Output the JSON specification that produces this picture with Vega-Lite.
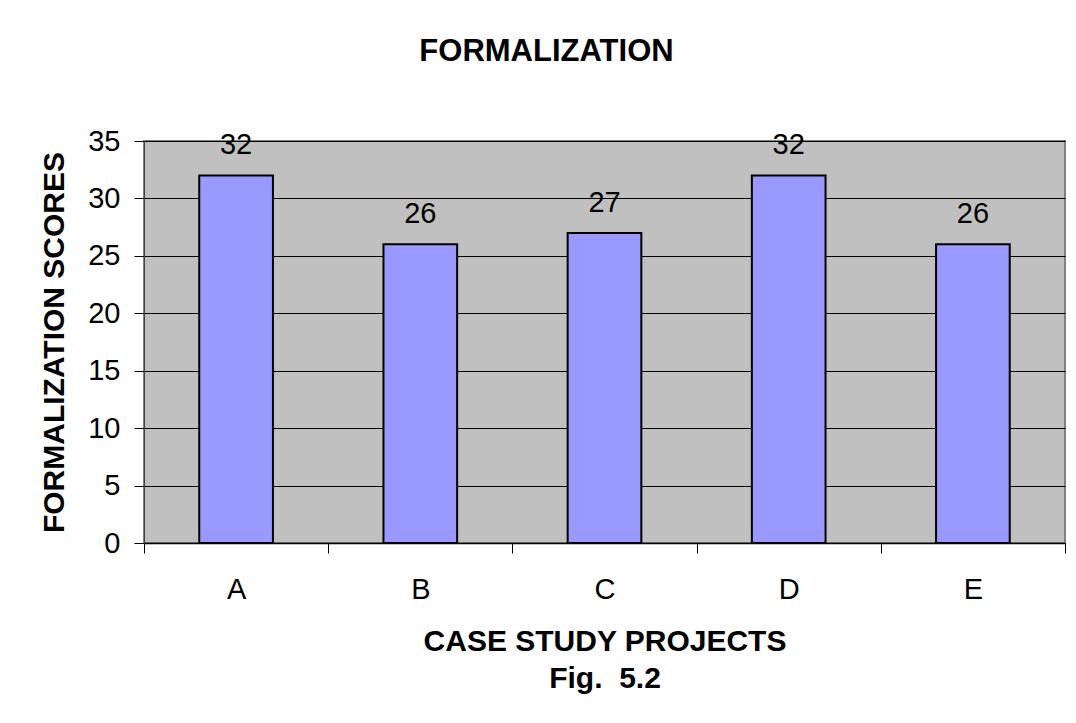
{
  "$schema": "https://vega.github.io/schema/vega-lite/v6.json",
  "autosize": {"type": "none"},
  "padding": {"left": 144, "top": 141, "right": 11, "bottom": 180},
  "width": 921,
  "height": 402,
  "background": "#ffffff",
  "title": {
    "text": "FORMALIZATION",
    "font": "Liberation Sans",
    "fontSize": 31,
    "fontWeight": "bold",
    "color": "#000000",
    "anchor": "middle",
    "frame": "group",
    "baseline": "alphabetic",
    "offset": 35,
    "dx": -58
  },
  "data": {
    "values": [
      {"project": "A", "score": 32},
      {"project": "B", "score": 26},
      {"project": "C", "score": 27},
      {"project": "D", "score": 32},
      {"project": "E", "score": 26}
    ]
  },
  "encoding": {
    "x": {
      "field": "project",
      "type": "nominal",
      "sort": null,
      "scale": {"paddingInner": 0, "paddingOuter": 0},
      "axis": {
        "title": ["CASE STUDY PROJECTS", "Fig.\u00a0 5.2"],
        "titleFont": "Liberation Sans",
        "titleFontSize": 30,
        "titleFontWeight": "bold",
        "titleColor": "#000000",
        "titleBaseline": "alphabetic",
        "titleY": 107,
        "titleLineHeight": 37,
        "labelAngle": 0,
        "labelFont": "Liberation Sans",
        "labelFontSize": 29,
        "labelColor": "#000000",
        "labelBaseline": "alphabetic",
        "labelPadding": 45,
        "tickBand": "extent",
        "tickSize": 10,
        "tickColor": "#000000",
        "domainColor": "#000000",
        "domainWidth": 1.5,
        "grid": false
      }
    },
    "y": {
      "field": "score",
      "type": "quantitative",
      "scale": {"domain": [0, 35], "nice": false},
      "axis": {
        "values": [0, 5, 10, 15, 20, 25, 30, 35],
        "title": "FORMALIZATION SCORES",
        "titleFont": "Liberation Sans",
        "titleFontSize": 30,
        "titleFontWeight": "bold",
        "titleColor": "#000000",
        "titleX": -90,
        "titleY": 201,
        "titleBaseline": "middle",
        "titleAlign": "center",
        "labelFont": "Liberation Sans",
        "labelFontSize": 29,
        "labelColor": "#000000",
        "labelPadding": 14,
        "tickSize": 10,
        "tickColor": "#000000",
        "domainColor": "#404040",
        "grid": true,
        "gridColor": "#000000",
        "gridWidth": 1
      }
    }
  },
  "layer": [
    {
      "mark": {"type": "bar", "width": {"band": 0.4}, "color": "#9999FF", "stroke": "#000000", "strokeWidth": 2}
    },
    {
      "mark": {"type": "text", "font": "Liberation Sans", "fontSize": 29, "color": "#000000", "baseline": "alphabetic", "dy": -21},
      "encoding": {"text": {"field": "score", "type": "quantitative"}}
    }
  ],
  "config": {
    "view": {"fill": "#C0C0C0", "stroke": "#808080", "strokeWidth": 2}
  }
}
